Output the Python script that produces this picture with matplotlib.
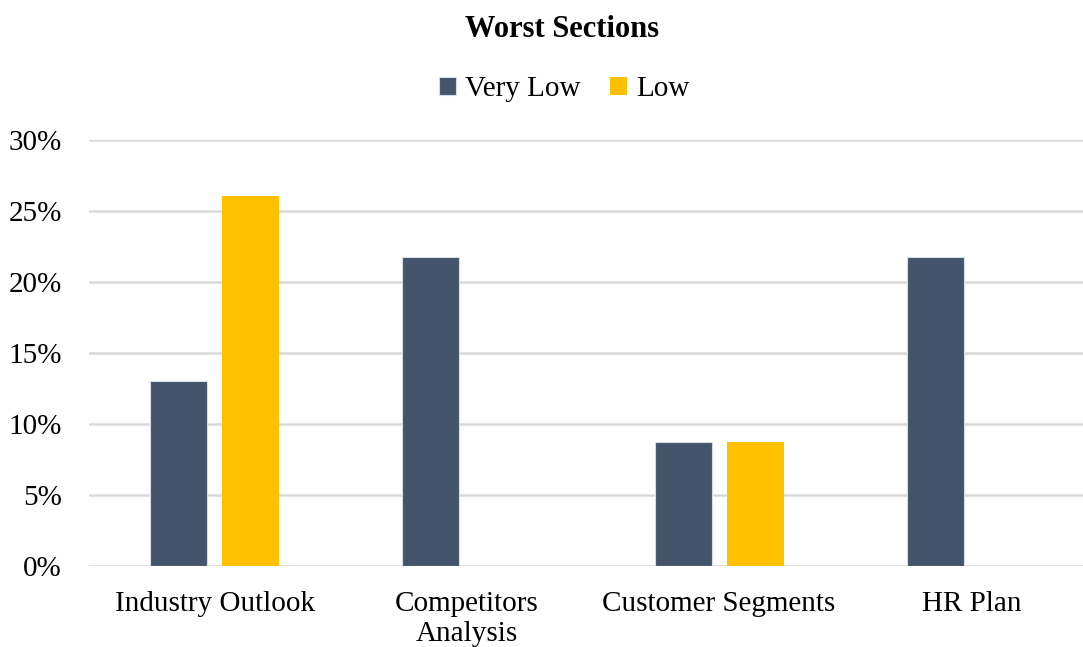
import matplotlib
matplotlib.use("Agg")
import matplotlib.pyplot as plt
import numpy as np
from matplotlib.ticker import PercentFormatter

categories = ["Industry Outlook", "Competitors\nAnalysis", "Customer Segments", "HR Plan"]
very_low = [13.04, 21.74, 8.70, 21.74]
low = [26.09, 0.0, 8.70, 0.0]
yticks = [0, 5, 10, 15, 20, 25, 30]

plt.rcParams['font.family'] = ['Liberation Serif', 'DejaVu Serif']

fig = plt.figure(figsize=(10.83, 6.47), dpi=100)
ax = fig.add_axes([88.5 / 1083, 1 - 566 / 647, 1009 / 1083, (566 - 140) / 647])

x = np.arange(len(categories))
w = 0.226
off = 0.143
ax.bar(x - off, very_low, w, color="#44546A", edgecolor="#D6DCE5", linewidth=0.8,
       label="Very Low", zorder=3)
ax.bar(x + off, low, w, color="#FFC000", label="Low", zorder=3)

ax.set_xlim(-0.5, len(categories) - 0.5)
ax.set_ylim(0, 30)
ax.set_yticks(yticks)
ax.yaxis.set_major_formatter(PercentFormatter(decimals=0))
ax.set_xticks(x)
ax.set_xticklabels(categories, linespacing=1.2)
ax.tick_params(axis='both', length=0, labelsize=21)
ax.tick_params(axis='y', pad=19)
ax.tick_params(axis='x', pad=18)
ax.grid(axis='y', color="#D9D9D9", linewidth=1.8, zorder=0)
for s in ax.spines.values():
    s.set_visible(False)

fig.text(0.519, 0.955, "Worst Sections", ha='center', va='center',
         fontsize=22, fontweight='bold')
fig.legend(loc='center', bbox_to_anchor=(0.521, 0.862), ncol=2, frameon=False,
           fontsize=21, handlelength=0.6, handleheight=0.6, handletextpad=0.3,
           columnspacing=1.0)

fig.savefig("out.png", dpi=100)
